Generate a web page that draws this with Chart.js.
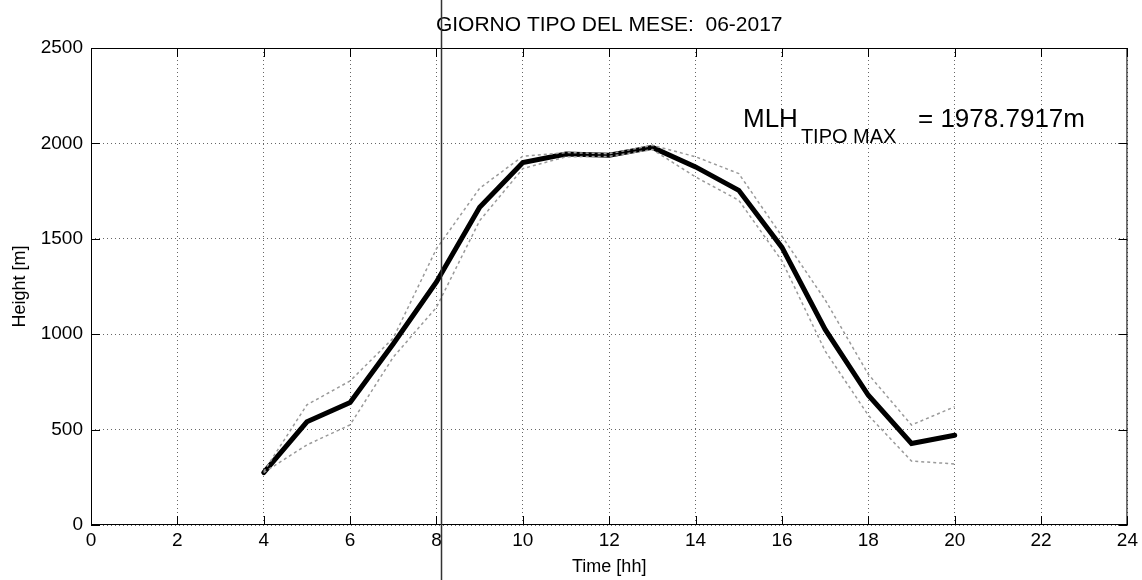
<!DOCTYPE html>
<html>
<head>
<meta charset="utf-8">
<script src="https://cdn.jsdelivr.net/npm/chart.js@4/dist/chart.umd.min.js"></script>
<style>
  body { margin: 0; background: #fff; }
  #wrap { width: 1142px; height: 580px; }
</style>
</head>
<body>
<div id="wrap"><canvas id="myChart" width="1142" height="580"></canvas></div>
<script>
// Hours of the typical day
const hours = [4, 5, 6, 7, 8, 9, 10, 11, 12, 13, 14, 15, 16, 17, 18, 19, 20];
// Typical mixing layer height (mean) and the two bounds
const mlhMean  = [275, 541, 642, 950, 1274, 1665, 1900, 1944, 1938, 1979, 1877, 1754, 1455, 1025, 680, 427, 470];
const mlhUpper = [280, 630, 755, 980, 1448, 1765, 1933, 1952, 1946, 1990, 1930, 1842, 1513, 1180, 790, 524, 620];
const mlhLower = [275, 420, 525, 880, 1141, 1595, 1868, 1930, 1932, 1968, 1824, 1702, 1384, 912, 575, 335, 320];
// Axis ticks
const xTicks = [0, 2, 4, 6, 8, 10, 12, 14, 16, 18, 20, 22, 24];
const yTicks = [0, 500, 1000, 1500, 2000, 2500];

const FONT = '"Liberation Sans", Arial, sans-serif';

function pts(vals) {
  return hours.map((h, i) => ({ x: h, y: vals[i] }));
}

// box, inside ticks, texts and the scanner line
const matlabLook = {
  id: 'matlabLook',
  afterDraw(chart) {
    const c = chart.ctx;
    const a = chart.chartArea;
    const xs = chart.scales.x;
    const ys = chart.scales.y;
    c.save();
    c.strokeStyle = '#000';
    c.lineWidth = 1;
    c.strokeRect(a.left + 0.5, a.top + 0.5, a.right - a.left - 1, a.bottom - a.top - 1);
    const tl = 9;
    c.beginPath();
    xTicks.forEach(v => {
      const px = Math.round(xs.getPixelForValue(v)) + 0.5;
      c.moveTo(px, a.bottom); c.lineTo(px, a.bottom - tl);
      c.moveTo(px, a.top); c.lineTo(px, a.top + tl);
    });
    yTicks.forEach(v => {
      const py = Math.round(ys.getPixelForValue(v)) + 0.5;
      c.moveTo(a.left, py); c.lineTo(a.left + tl, py);
      c.moveTo(a.right, py); c.lineTo(a.right - tl, py);
    });
    c.stroke();

    c.fillStyle = '#000';
    c.textBaseline = 'middle';
    c.textAlign = 'center';
    c.font = '21px ' + FONT;
    c.fillText('GIORNO TIPO DEL MESE:  06-2017', (a.left + a.right) / 2, 25);

    c.font = '18px ' + FONT;
    c.fillText('Time [hh]', (a.left + a.right) / 2, 567);

    c.save();
    c.translate(20, (a.top + a.bottom) / 2);
    c.rotate(-Math.PI / 2);
    c.fillText('Height [m]', 0, 0);
    c.restore();

    // annotation with the max value
    c.textAlign = 'left';
    c.textBaseline = 'alphabetic';
    c.font = '26px ' + FONT;
    let x0 = 743;
    c.fillText('MLH', x0, 127);
    x0 += c.measureText('MLH').width + 3;
    c.font = '20px ' + FONT;
    c.fillText('TIPO MAX', x0, 143);
    c.font = '26px ' + FONT;
    c.fillText('= 1978.7917m', 918, 127);

    // vertical scanner line
    const lx = Math.round(xs.getPixelForValue(8.1)) + 0.5;
    c.strokeStyle = '#333';
    c.lineWidth = 1.5;
    c.beginPath();
    c.moveTo(lx, 0); c.lineTo(lx, chart.height);
    c.stroke();
    c.restore();
  }
};

const ctx = document.getElementById('myChart').getContext('2d');
const myChart = new Chart(ctx, {
  type: 'line',
  data: {
    datasets: [
      {
        label: 'upper',
        data: pts(mlhUpper),
        borderColor: '#9a9a9a',
        borderWidth: 1.5,
        borderDash: [3, 3],
        pointRadius: 0,
        order: 1
      },
      {
        label: 'lower',
        data: pts(mlhLower),
        borderColor: '#9a9a9a',
        borderWidth: 1.5,
        borderDash: [3, 3],
        pointRadius: 0,
        order: 1
      },
      {
        label: 'mean',
        data: pts(mlhMean),
        borderColor: '#000',
        borderWidth: 5,
        borderCapStyle: 'round',
        pointRadius: 0,
        order: 2
      }
    ]
  },
  options: {
    responsive: false,
    animation: false,
    devicePixelRatio: 1,
    layout: { padding: { top: 48, right: 12, left: 0, bottom: 0 } },
    plugins: {
      legend: { display: false },
      tooltip: { enabled: false }
    },
    scales: {
      x: {
        type: 'linear',
        min: 0,
        max: 24,
        afterBuildTicks: s => { s.ticks = xTicks.map(v => ({ value: v })); },
        afterFit: s => { s.height = 55; },
        ticks: { color: '#000', font: { family: FONT, size: 19 }, padding: 4, maxRotation: 0,
                 callback: v => String(v) },
        grid: { color: 'rgba(0,0,0,0.6)', drawTicks: false, lineWidth: 1 },
        border: { display: false, dash: [1, 3] }
      },
      y: {
        min: 0,
        max: 2500,
        afterBuildTicks: s => { s.ticks = yTicks.map(v => ({ value: v })); },
        afterFit: s => { s.width = 91; },
        ticks: { color: '#000', font: { family: FONT, size: 19 }, padding: 8,
                 callback: v => String(v) },
        grid: { color: 'rgba(0,0,0,0.6)', drawTicks: false, lineWidth: 1 },
        border: { display: false, dash: [1, 3] }
      }
    }
  },
  plugins: [matlabLook]
});
</script>
</body>
</html>
